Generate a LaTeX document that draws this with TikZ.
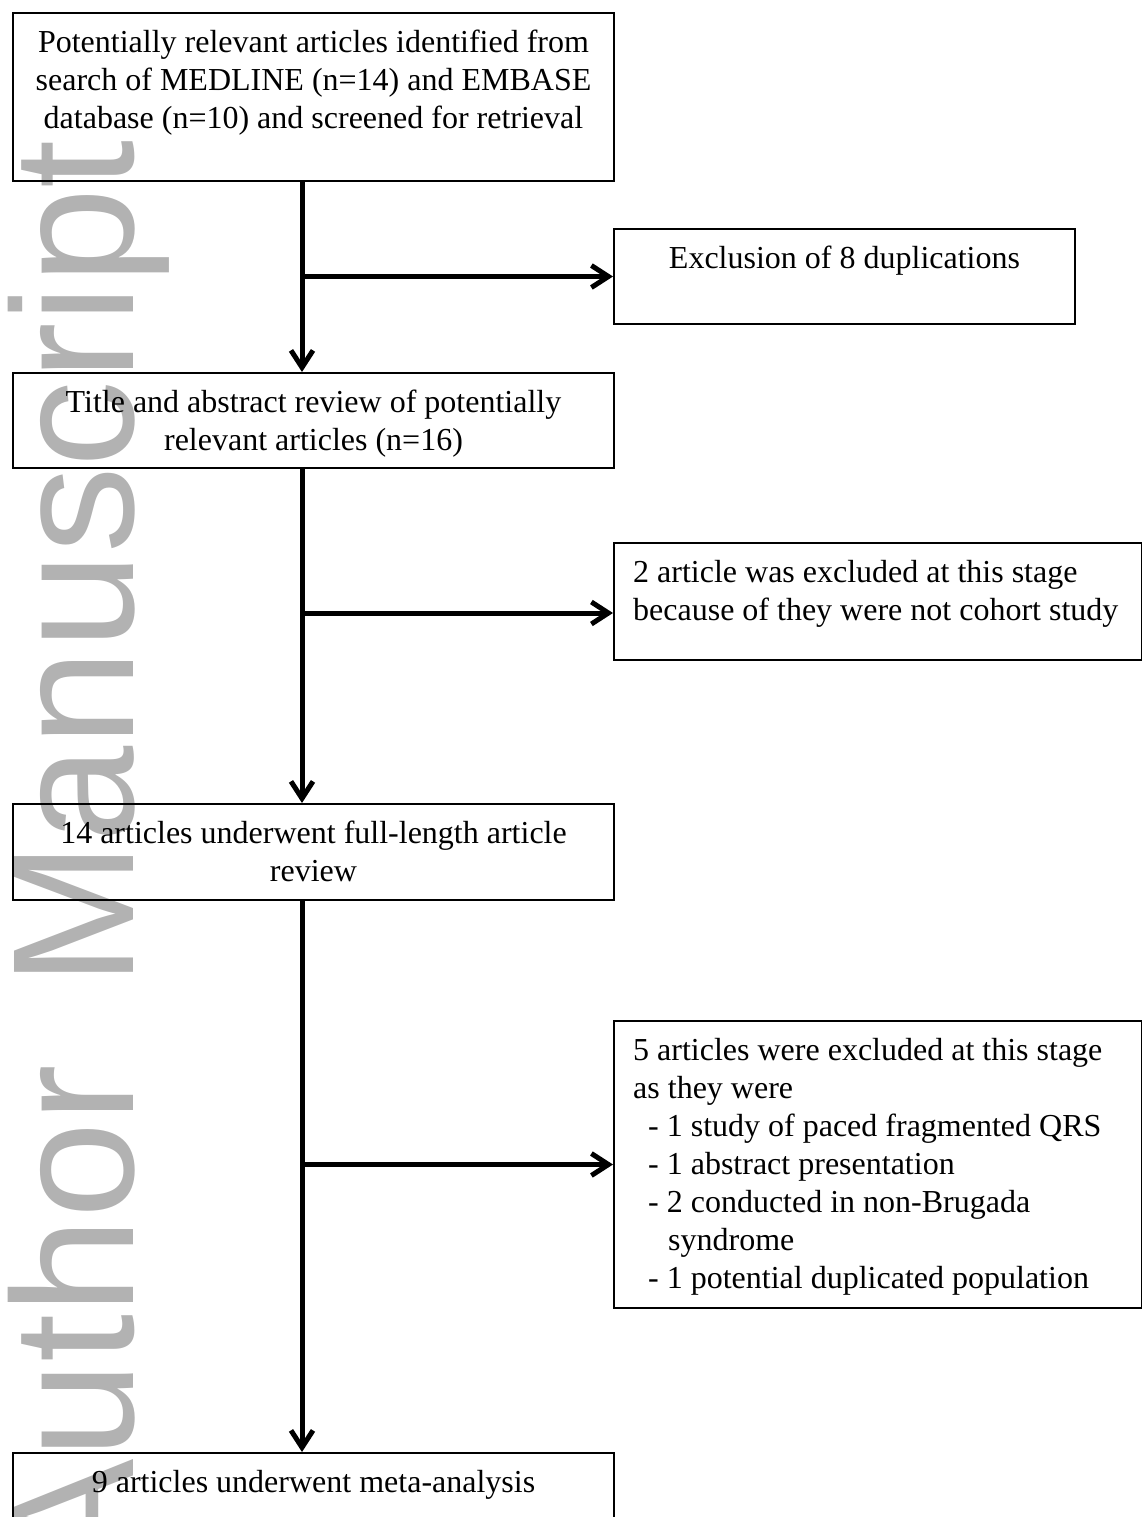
\documentclass[tikz,border=0pt]{standalone}
\usepackage{fontspec}
\setmainfont{Liberation Serif}
\newfontfamily\wmfont{Liberation Sans}
\usepackage{tikz}
\usetikzlibrary{arrows.meta,positioning}
\definecolor{wmgray}{RGB}{178,178,178}
\tikzset{
  flowbox/.style={draw=black, line width=2pt, inner sep=0pt, anchor=north west},
  flowtext/.style={font=\fontsize{32}{38}\selectfont, inner sep=0pt},
  flowarrow/.style={line width=5pt, -{Straight Barb[length=17pt,width=22pt]}},
}

\begin{document}
\begin{tikzpicture}[x=1pt,y=-1pt]
\clip (0,0) rectangle (1142,1517);

% watermark
\node [rotate=90, anchor=base east, inner sep=0pt, text=wmgray,
       font=\fontsize{173}{173}\selectfont\wmfont] (wm) at (133,140) {Author\hspace{30pt} Manuscript};

\node [flowbox, minimum width=601pt, minimum height=168pt] (search) at (12,12) {};
\node [flowbox, minimum width=461pt, minimum height=95pt] (dup) at (613,228) {};
\node [flowbox, minimum width=601pt, minimum height=95pt] (title) at (12,372) {};
\node [flowbox, minimum width=528pt, minimum height=117pt] (excl1) at (613,542) {};
\node [flowbox, minimum width=601pt, minimum height=96pt] (full) at (12,803) {};
\node [flowbox, minimum width=528pt, minimum height=287pt] (excl2) at (613,1020) {};
\node [flowbox, minimum width=601pt, minimum height=96pt] (meta) at (12,1452) {};

\node [flowtext, align=center, below=18pt of search.north] (searchtext)
  {Potentially relevant articles identified from\\
   search of MEDLINE (n=14) and EMBASE\\
   database (n=10) and screened for retrieval};
\node [flowtext, align=center, below=18pt of dup.north] (duptext)
  {Exclusion of 8 duplications};
\node [flowtext, align=center, below=18pt of title.north] (titletext)
  {Title and abstract review of potentially\\
   relevant articles (n=16)};
\node [flowtext, align=left, below right=18pt and 20pt of excl1.north west] (excltext1)
  {2 article was excluded at this stage\\
   because of they were not cohort study};
\node [flowtext, align=center, below=18pt of full.north] (fulltext)
  {14 articles underwent full-length article\\
   review};
\node [flowtext, align=left, below right=18pt and 20pt of excl2.north west] (excltext2)
  {5 articles were excluded at this stage\\
   as they were\\
   \hspace*{15pt}- 1 study of paced fragmented QRS\\
   \hspace*{15pt}- 1 abstract presentation\\
   \hspace*{15pt}- 2 conducted in non-Brugada\\
   \hspace*{35pt}syndrome\\
   \hspace*{15pt}- 1 potential duplicated population};
\node [flowtext, align=center, below=18pt of meta.north] (metatext)
  {9 articles underwent meta-analysis};

% main line and branches
\coordinate (trunk) at (302,0);
\coordinate (excl1in) at ([yshift=-11.5pt]excl1.west);
\draw [flowarrow] (trunk |- search.south) -- (trunk |- title.north);
\draw [flowarrow] (trunk |- title.south) -- (trunk |- full.north);
\draw [flowarrow] (trunk |- full.south) -- (trunk |- meta.north);

\draw [flowarrow] (trunk |- dup.west) -- (dup.west);
\draw [flowarrow] (trunk |- excl1in) -- (excl1in);
\draw [flowarrow] (trunk |- excl2.west) -- (excl2.west);

\end{tikzpicture}
\end{document}
